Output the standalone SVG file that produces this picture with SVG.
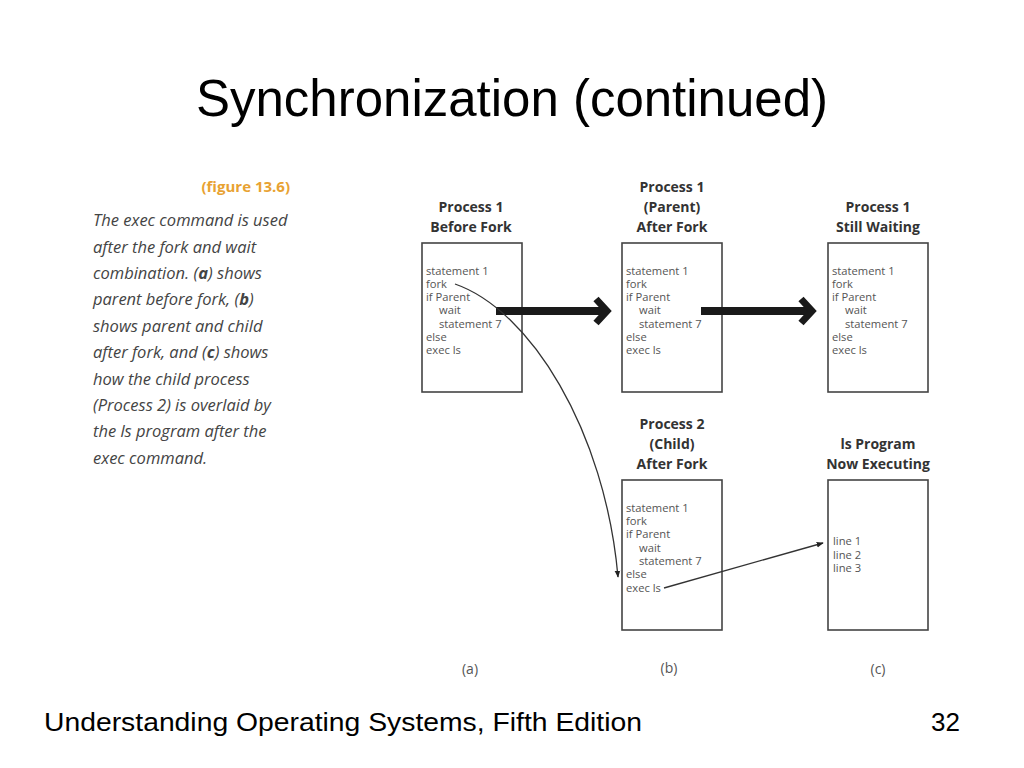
<svg xmlns="http://www.w3.org/2000/svg" width="1024" height="768" viewBox="0 0 1024 768">
<defs>
<style>
.title{font-family:"Liberation Sans",Arial,sans-serif;font-size:52px;fill:#000}
.foot{font-family:"Liberation Sans",Arial,sans-serif;font-size:26px;fill:#000}
.cap{font-family:"Open Sans","Noto Sans",sans-serif;font-style:italic;font-size:16.5px;fill:#444}
.fig{font-family:"Open Sans","Noto Sans",sans-serif;font-weight:bold;font-size:15px;fill:#e8a232}
.hdr{font-family:"Open Sans","Noto Sans",sans-serif;font-weight:bold;font-size:14px;fill:#333;text-anchor:middle}
.code{font-family:"Open Sans","Noto Sans",sans-serif;font-size:11.2px;fill:#555}
.lbl{font-family:"Open Sans","Noto Sans",sans-serif;font-size:14px;fill:#555;text-anchor:middle}
.box{fill:#fff;stroke:#444;stroke-width:1.6}
.thin{fill:none;stroke:#333;stroke-width:1.3}
.shaft{stroke:#1a1a1a;stroke-width:8;fill:none}
.chev{stroke:#1a1a1a;stroke-width:7;fill:none;stroke-linejoin:miter}
</style>
<marker id="ah" viewBox="0 0 10 10" refX="9" refY="5" markerWidth="7" markerHeight="7" orient="auto" markerUnits="userSpaceOnUse">
<path d="M0,1 L10,5 L0,9 Z" fill="#222"/>
</marker>
</defs>
<rect width="1024" height="768" fill="#fff"/>
<text class="title" x="196" y="116" textLength="632" lengthAdjust="spacingAndGlyphs">Synchronization (continued)</text>

<g id="caption">
<text class="fig" x="290" y="192" text-anchor="end">(figure 13.6)</text>
<text class="cap" x="93" y="226">The exec command is used</text>
<text class="cap" x="93" y="253">after the fork and wait</text>
<text class="cap" x="93" y="279">combination. (<tspan font-weight="bold">a</tspan>) shows</text>
<text class="cap" x="93" y="305">parent before fork, (<tspan font-weight="bold">b</tspan>)</text>
<text class="cap" x="93" y="332">shows parent and child</text>
<text class="cap" x="93" y="358">after fork, and (<tspan font-weight="bold">c</tspan>) shows</text>
<text class="cap" x="93" y="385">how the child process</text>
<text class="cap" x="93" y="411">(Process 2) is overlaid by</text>
<text class="cap" x="93" y="437">the ls program after the</text>
<text class="cap" x="93" y="464">exec command.</text>
</g>

<g id="p1-before">
<text class="hdr" x="471" y="212">Process 1</text>
<text class="hdr" x="471" y="232">Before Fork</text>
<rect class="box" x="422" y="243" width="100" height="149"/>
<text class="code" x="426" y="275">statement 1</text>
<text class="code" x="426" y="288">fork</text>
<text class="code" x="426" y="301">if Parent</text>
<text class="code" x="439" y="314">wait</text>
<text class="code" x="439" y="328">statement 7</text>
<text class="code" x="426" y="341">else</text>
<text class="code" x="426" y="354">exec ls</text>
</g>

<g id="p1-after">
<text class="hdr" x="672" y="192">Process 1</text>
<text class="hdr" x="672" y="212">(Parent)</text>
<text class="hdr" x="672" y="232">After Fork</text>
<rect class="box" x="622" y="243" width="100" height="149"/>
<text class="code" x="626" y="275">statement 1</text>
<text class="code" x="626" y="288">fork</text>
<text class="code" x="626" y="301">if Parent</text>
<text class="code" x="639" y="314">wait</text>
<text class="code" x="639" y="328">statement 7</text>
<text class="code" x="626" y="341">else</text>
<text class="code" x="626" y="354">exec ls</text>
</g>

<g id="p1-waiting">
<text class="hdr" x="878" y="212">Process 1</text>
<text class="hdr" x="878" y="232">Still Waiting</text>
<rect class="box" x="828" y="243" width="100" height="149"/>
<text class="code" x="832" y="275">statement 1</text>
<text class="code" x="832" y="288">fork</text>
<text class="code" x="832" y="301">if Parent</text>
<text class="code" x="845" y="314">wait</text>
<text class="code" x="845" y="328">statement 7</text>
<text class="code" x="832" y="341">else</text>
<text class="code" x="832" y="354">exec ls</text>
</g>

<g id="p2-child">
<text class="hdr" x="672" y="429">Process 2</text>
<text class="hdr" x="672" y="449">(Child)</text>
<text class="hdr" x="672" y="469">After Fork</text>
<rect class="box" x="622" y="480" width="100" height="150"/>
<text class="code" x="626" y="512">statement 1</text>
<text class="code" x="626" y="525">fork</text>
<text class="code" x="626" y="538">if Parent</text>
<text class="code" x="639" y="552">wait</text>
<text class="code" x="639" y="565">statement 7</text>
<text class="code" x="626" y="578">else</text>
<text class="code" x="626" y="592">exec ls</text>
</g>

<g id="ls-program">
<text class="hdr" x="878" y="449">ls Program</text>
<text class="hdr" x="878" y="469">Now Executing</text>
<rect class="box" x="828" y="480" width="100" height="150"/>
<text class="code" x="833" y="545">line 1</text>
<text class="code" x="833" y="559">line 2</text>
<text class="code" x="833" y="572">line 3</text>
</g>

<g id="connectors">
<line class="shaft" x1="496" y1="311" x2="604" y2="311"/>
<polyline class="chev" points="596,299 607,311 596,323"/>
<line class="shaft" x1="701" y1="311" x2="809" y2="311"/>
<polyline class="chev" points="801,299 812,311 801,323"/>
<path class="thin" d="M455,284 C530,310 605,430 618,577" marker-end="url(#ah)"/>
<path class="thin" d="M664,588 L823,543" marker-end="url(#ah)"/>
</g>

<g id="labels">
<text class="lbl" x="470" y="674">(a)</text>
<text class="lbl" x="669" y="673">(b)</text>
<text class="lbl" x="878" y="674">(c)</text>
</g>

<text class="foot" x="44" y="731" textLength="598" lengthAdjust="spacingAndGlyphs">Understanding Operating Systems, Fifth Edition</text>
<text class="foot" x="960" y="731" text-anchor="end">32</text>
</svg>
